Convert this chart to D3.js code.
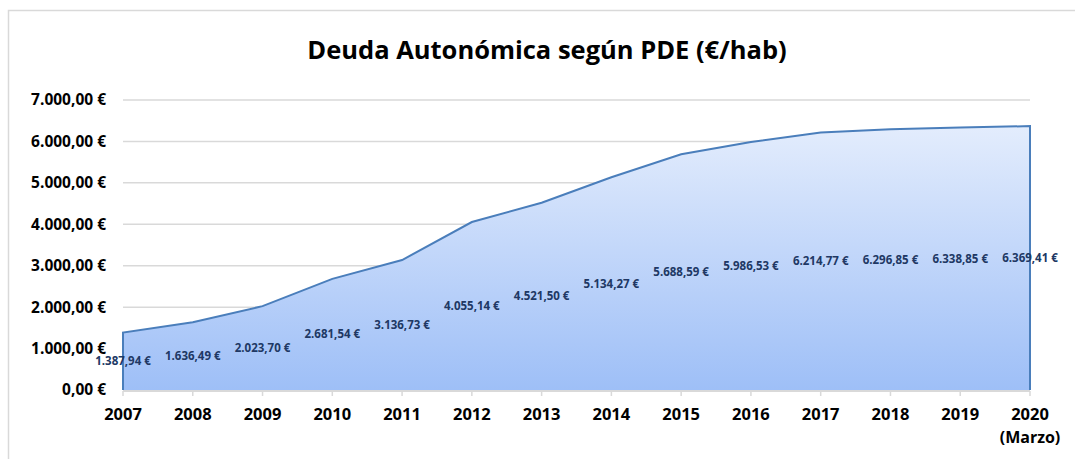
<!DOCTYPE html>
<html>
<head>
<meta charset="utf-8">
<script src="https://cdn.jsdelivr.net/npm/d3@7"></script>
<style>
  body { margin: 0; background: #fff; }
  svg { display: block; font-family: "Open Sans", sans-serif; }
</style>
</head>
<body>
<svg id="chart"></svg>
<script>
// data
var years = ["2007", "2008", "2009", "2010", "2011", "2012", "2013",
             "2014", "2015", "2016", "2017", "2018", "2019", "2020"];
var deuda = [1387.94, 1636.49, 2023.70, 2681.54, 3136.73, 4055.14, 4521.50,
             5134.27, 5688.59, 5986.53, 6214.77, 6296.85, 6338.85, 6369.41];
var yTicks = [0, 1000, 2000, 3000, 4000, 5000, 6000, 7000];
var title = "Deuda Autonómica según PDE (€/hab)";

var W = 1075, H = 459;
var pic = d3.select("#chart").attr("width", W).attr("height", H);

// spanish number format
var es = d3.formatLocale({decimal: ",", thousands: ".", grouping: [3], currency: ["", " €"]});
var fmt = es.format(",.2f");

var x = d3.scalePoint().domain(years).range([123, 1030]);
var y = d3.scaleLinear().domain([0, 7000]).range([390, 100]);

// chart border
pic.append("rect")
  .attr("x", 8.5).attr("y", 10.5).attr("width", W + 10).attr("height", H + 10)
  .attr("fill", "none").attr("stroke", "#d9d9d9").attr("stroke-width", 1.5);

// title
pic.append("text")
  .attr("x", 547).attr("y", 59)
  .attr("text-anchor", "middle")
  .attr("font-size", 25.5).attr("font-weight", "bold").attr("fill", "#000")
  .text(title);

// gridlines
pic.append("g").selectAll("line").data(yTicks.slice(1)).enter()
  .append("line")
  .attr("x1", 123).attr("x2", 1030)
  .attr("y1", function(d){ return y(d); }).attr("y2", function(d){ return y(d); })
  .attr("stroke", "#d9d9d9").attr("stroke-width", 1.5);

// y tick labels
pic.append("g").selectAll("text").data(yTicks).enter()
  .append("text")
  .attr("x", 106).attr("y", function(d){ return y(d); })
  .attr("dy", "0.35em")
  .attr("text-anchor", "end")
  .attr("font-size", 15.5).attr("font-weight", "bold").attr("fill", "#000")
  .text(function(d){ return fmt(d) + " €"; });

// gradient for the area
var grad = pic.append("defs").append("linearGradient")
  .attr("id", "fillGrad").attr("gradientUnits", "userSpaceOnUse")
  .attr("x1", 0).attr("x2", 0).attr("y1", y(7000)).attr("y2", y(0));
grad.append("stop").attr("offset", "0%").attr("stop-color", "#eaf1fd");
grad.append("stop").attr("offset", "100%").attr("stop-color", "#9ebff7");

var area = d3.area()
  .x(function(d, i){ return x(years[i]); })
  .y0(y(0))
  .y1(function(d){ return y(d); });

pic.append("path")
  .datum(deuda)
  .attr("d", area)
  .attr("fill", "url(#fillGrad)");

// outline: left edge, top line, right edge
var outline = [[x(years[0]), y(0)]]
  .concat(deuda.map(function(d, i){ return [x(years[i]), y(d)]; }))
  .concat([[x(years[years.length - 1]), y(0)]]);
pic.append("path")
  .attr("d", d3.line()(outline))
  .attr("fill", "none").attr("stroke", "#4a7ebb").attr("stroke-width", 2);

// x axis
var xAxis = pic.append("g").attr("transform", "translate(0," + (y(0) + 1) + ")");
xAxis.append("line")
  .attr("x1", 123).attr("x2", 1030)
  .attr("stroke", "#d9d9d9").attr("stroke-width", 2);
xAxis.selectAll(".tk").data(years).enter()
  .append("line").attr("class", "tk")
  .attr("x1", function(d){ return x(d); }).attr("x2", function(d){ return x(d); })
  .attr("y1", 0).attr("y2", 5)
  .attr("stroke", "#d9d9d9").attr("stroke-width", 1.5);
xAxis.selectAll(".yl").data(years).enter()
  .append("text").attr("class", "yl")
  .attr("x", function(d){ return x(d); }).attr("y", 29)
  .attr("text-anchor", "middle")
  .attr("font-size", 16.5).attr("font-weight", "bold").attr("fill", "#000")
  .text(function(d){ return d; });
xAxis.append("text")
  .attr("x", x("2020")).attr("y", 52)
  .attr("text-anchor", "middle")
  .attr("font-size", 16).attr("font-weight", "bold").attr("fill", "#000")
  .text("(Marzo)");

// data labels at middle of each value
pic.append("g").selectAll("text").data(deuda).enter()
  .append("text")
  .attr("x", function(d, i){ return x(years[i]); })
  .attr("y", function(d){ return y(d / 2); })
  .attr("dy", "0.35em")
  .attr("text-anchor", "middle")
  .attr("font-size", 11.5).attr("font-weight", "bold").attr("fill", "#203864")
  .text(function(d){ return fmt(d) + " €"; });
</script>
</body>
</html>
